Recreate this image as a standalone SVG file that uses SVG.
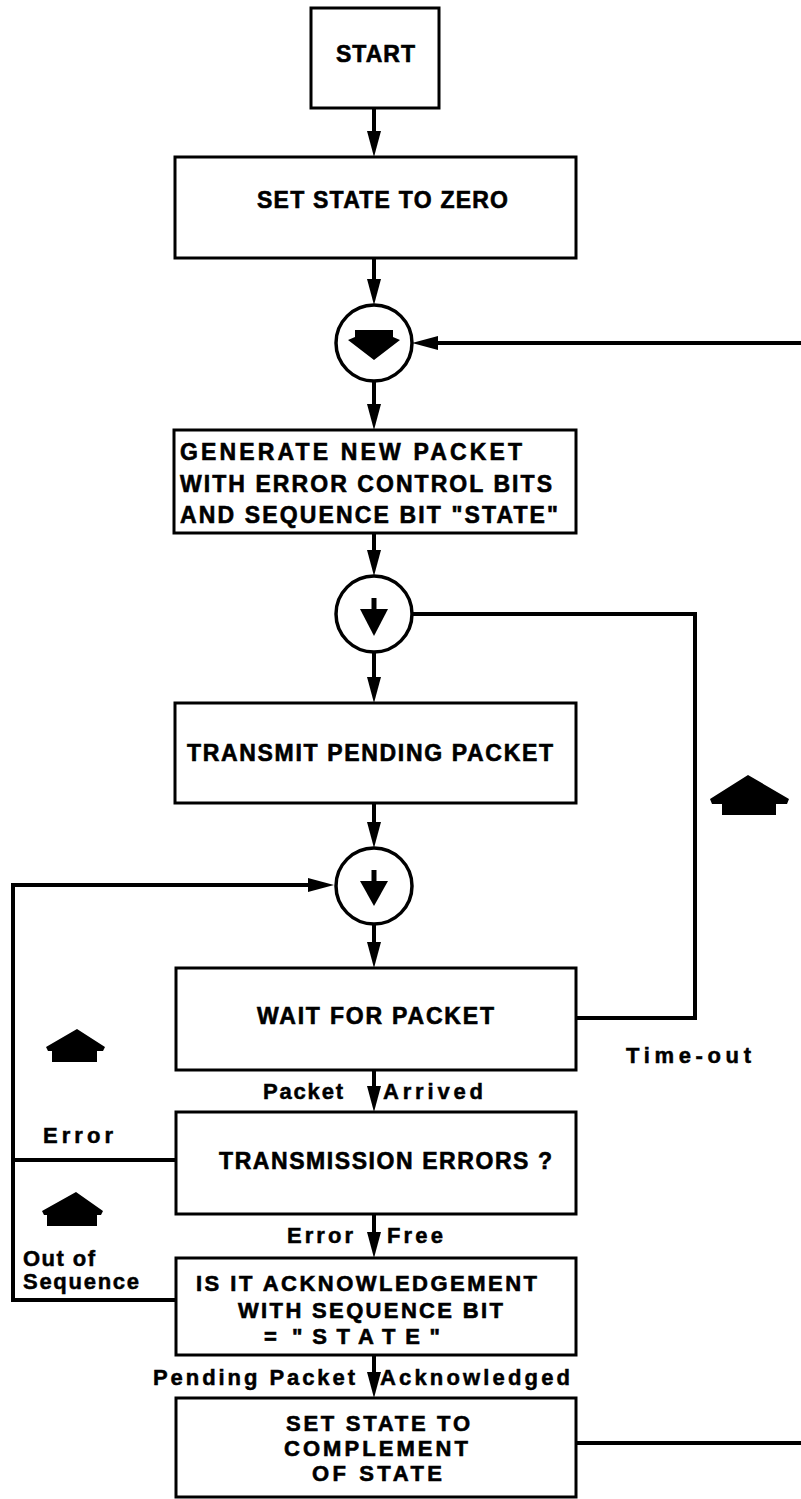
<svg xmlns="http://www.w3.org/2000/svg" width="801" height="1499" viewBox="0 0 801 1499">
<style>
.box{fill:#fff;stroke:#000;stroke-width:3}
.ln{fill:none;stroke:#000;stroke-width:4}
.cir{fill:#fff;stroke:#000;stroke-width:3.5}
.t{font-family:"Liberation Sans",Arial,sans-serif;font-weight:bold;font-size:23px;fill:#000;stroke:#000;stroke-width:0.6}
.s{font-size:22px}
.l{font-family:"Liberation Sans",Arial,sans-serif;font-weight:bold;font-size:22px;fill:#000;stroke:#000;stroke-width:0.5}
.sym{fill:#000}
</style>
<defs>
<marker id="ah" markerUnits="userSpaceOnUse" markerWidth="30" markerHeight="16" viewBox="-28 -8 30 16" refX="-8" refY="0" orient="auto">
<path d="M0,0 L-26,-7 L-26,7 Z" fill="#000"/>
</marker>
</defs>
<rect width="801" height="1499" fill="#fff"/>

<g id="connectors">
<path class="ln" d="M374,108 L374,149" marker-end="url(#ah)"/>
<path class="ln" d="M374,258 L374,297" marker-end="url(#ah)"/>
<path class="ln" d="M801,343 L420,343" marker-end="url(#ah)"/>
<path class="ln" d="M374,381 L374,422" marker-end="url(#ah)"/>
<path class="ln" d="M374,533 L374,568" marker-end="url(#ah)"/>
<path class="ln" d="M374,653 L374,695" marker-end="url(#ah)"/>
<path class="ln" d="M412,614 L695,614 L695,1018 L576,1018"/>
<path class="ln" d="M374,803 L374,840" marker-end="url(#ah)"/>
<path class="ln" d="M175,1300 L13,1300 L13,885 L326,885" marker-end="url(#ah)"/>
<path class="ln" d="M13,1160 L175,1160"/>
<path class="ln" d="M374,924 L374,960" marker-end="url(#ah)"/>
<path class="ln" d="M374,1070 L374,1104" marker-end="url(#ah)"/>
<path class="ln" d="M374,1214 L374,1250" marker-end="url(#ah)"/>
<path class="ln" d="M374,1355 L374,1390" marker-end="url(#ah)"/>
<path class="ln" d="M576,1443 L801,1443"/>
<polygon class="sym" points="748,775 789,799 787,804 776,804 776,815 722,815 722,804 712,804 710,799"/>
<polygon class="sym" points="77,1029 105,1047 103,1051 97,1051 97,1062 52,1062 52,1051 48,1051 46,1047"/>
<polygon class="sym" points="76,1192 103,1211 101,1215 97,1215 97,1226 47,1226 47,1215 44,1215 42,1211"/>
</g>

<g id="start">
<rect class="box" x="311" y="8" width="128" height="100"/>
<text class="t" x="336" y="62" font-size="25" textLength="79" lengthAdjust="spacing">START</text>
</g>

<g id="set-zero">
<rect class="box" x="175" y="157" width="401" height="101"/>
<text class="t" x="257" y="208" textLength="251" lengthAdjust="spacing">SET STATE TO ZERO</text>
</g>

<g id="junction1">
<circle class="cir" cx="374" cy="343" r="38"/>
<polygon class="sym" points="355,330 393,330 393,337 400,340 374,360 348,340 355,337"/>
</g>

<g id="generate">
<rect class="box" x="174" y="430" width="402" height="103"/>
<text class="t" x="180" y="460" textLength="342" lengthAdjust="spacing">GENERATE  NEW  PACKET</text>
<text class="t" x="180" y="492" textLength="372" lengthAdjust="spacing">WITH ERROR  CONTROL  BITS</text>
<text class="t" x="180" y="523" textLength="378" lengthAdjust="spacing">AND  SEQUENCE  BIT "STATE"</text>
</g>

<g id="junction2">
<circle class="cir" cx="374" cy="614" r="38"/>
<rect class="sym" x="371.5" y="598" width="5" height="14"/>
<polygon class="sym" points="360,609 388,609 374,636"/>
</g>

<g id="transmit">
<rect class="box" x="175" y="703" width="401" height="100"/>
<text class="t" x="187" y="761" textLength="366" lengthAdjust="spacing">TRANSMIT PENDING PACKET</text>
</g>

<g id="junction3">
<circle class="cir" cx="374" cy="886" r="38"/>
<rect class="sym" x="371.5" y="870" width="5" height="14"/>
<polygon class="sym" points="360,881 388,881 374,906"/>
</g>

<g id="wait">
<rect class="box" x="176" y="968" width="400" height="102"/>
<text class="t" x="257" y="1024" textLength="237" lengthAdjust="spacing">WAIT  FOR  PACKET</text>
</g>

<g id="errors">
<rect class="box" x="176" y="1112" width="400" height="102"/>
<text class="t" x="219" y="1169" textLength="333" lengthAdjust="spacing">TRANSMISSION ERRORS ?</text>
</g>

<g id="ack">
<rect class="box" x="176" y="1258" width="400" height="97"/>
<text class="t s" x="196" y="1291" textLength="341" lengthAdjust="spacing">IS IT ACKNOWLEDGEMENT</text>
<text class="t s" x="238" y="1318" textLength="265" lengthAdjust="spacing">WITH SEQUENCE BIT</text>
<text class="t s" x="264" y="1344">=</text>
<text class="t s" x="292" y="1344" textLength="148" lengthAdjust="spacing">"STATE"</text>
</g>

<g id="complement">
<rect class="box" x="176" y="1398" width="400" height="99"/>
<text class="t s" x="286" y="1431" textLength="184" lengthAdjust="spacing">SET STATE TO</text>
<text class="t s" x="284" y="1456" textLength="184" lengthAdjust="spacing">COMPLEMENT</text>
<text class="t s" x="312" y="1481" textLength="130" lengthAdjust="spacing">OF STATE</text>
</g>

<g id="labels">
<text class="l" x="626" y="1063" textLength="125" lengthAdjust="spacing">Time-out</text>
<text class="l" x="263" y="1099" textLength="80" lengthAdjust="spacing">Packet</text>
<text class="l" x="383" y="1099" textLength="100" lengthAdjust="spacing">Arrived</text>
<text class="l" x="43" y="1143" textLength="70" lengthAdjust="spacing">Error</text>
<text class="l" x="287" y="1243" textLength="66" lengthAdjust="spacing">Error</text>
<text class="l" x="387" y="1243" textLength="56" lengthAdjust="spacing">Free</text>
<text class="l" x="23" y="1266" textLength="72" lengthAdjust="spacing">Out of</text>
<text class="l" x="23" y="1289" textLength="116" lengthAdjust="spacing">Sequence</text>
<text class="l" x="153" y="1385" textLength="202" lengthAdjust="spacing">Pending Packet</text>
<text class="l" x="380" y="1385" textLength="190" lengthAdjust="spacing">Acknowledged</text>
</g>
</svg>
